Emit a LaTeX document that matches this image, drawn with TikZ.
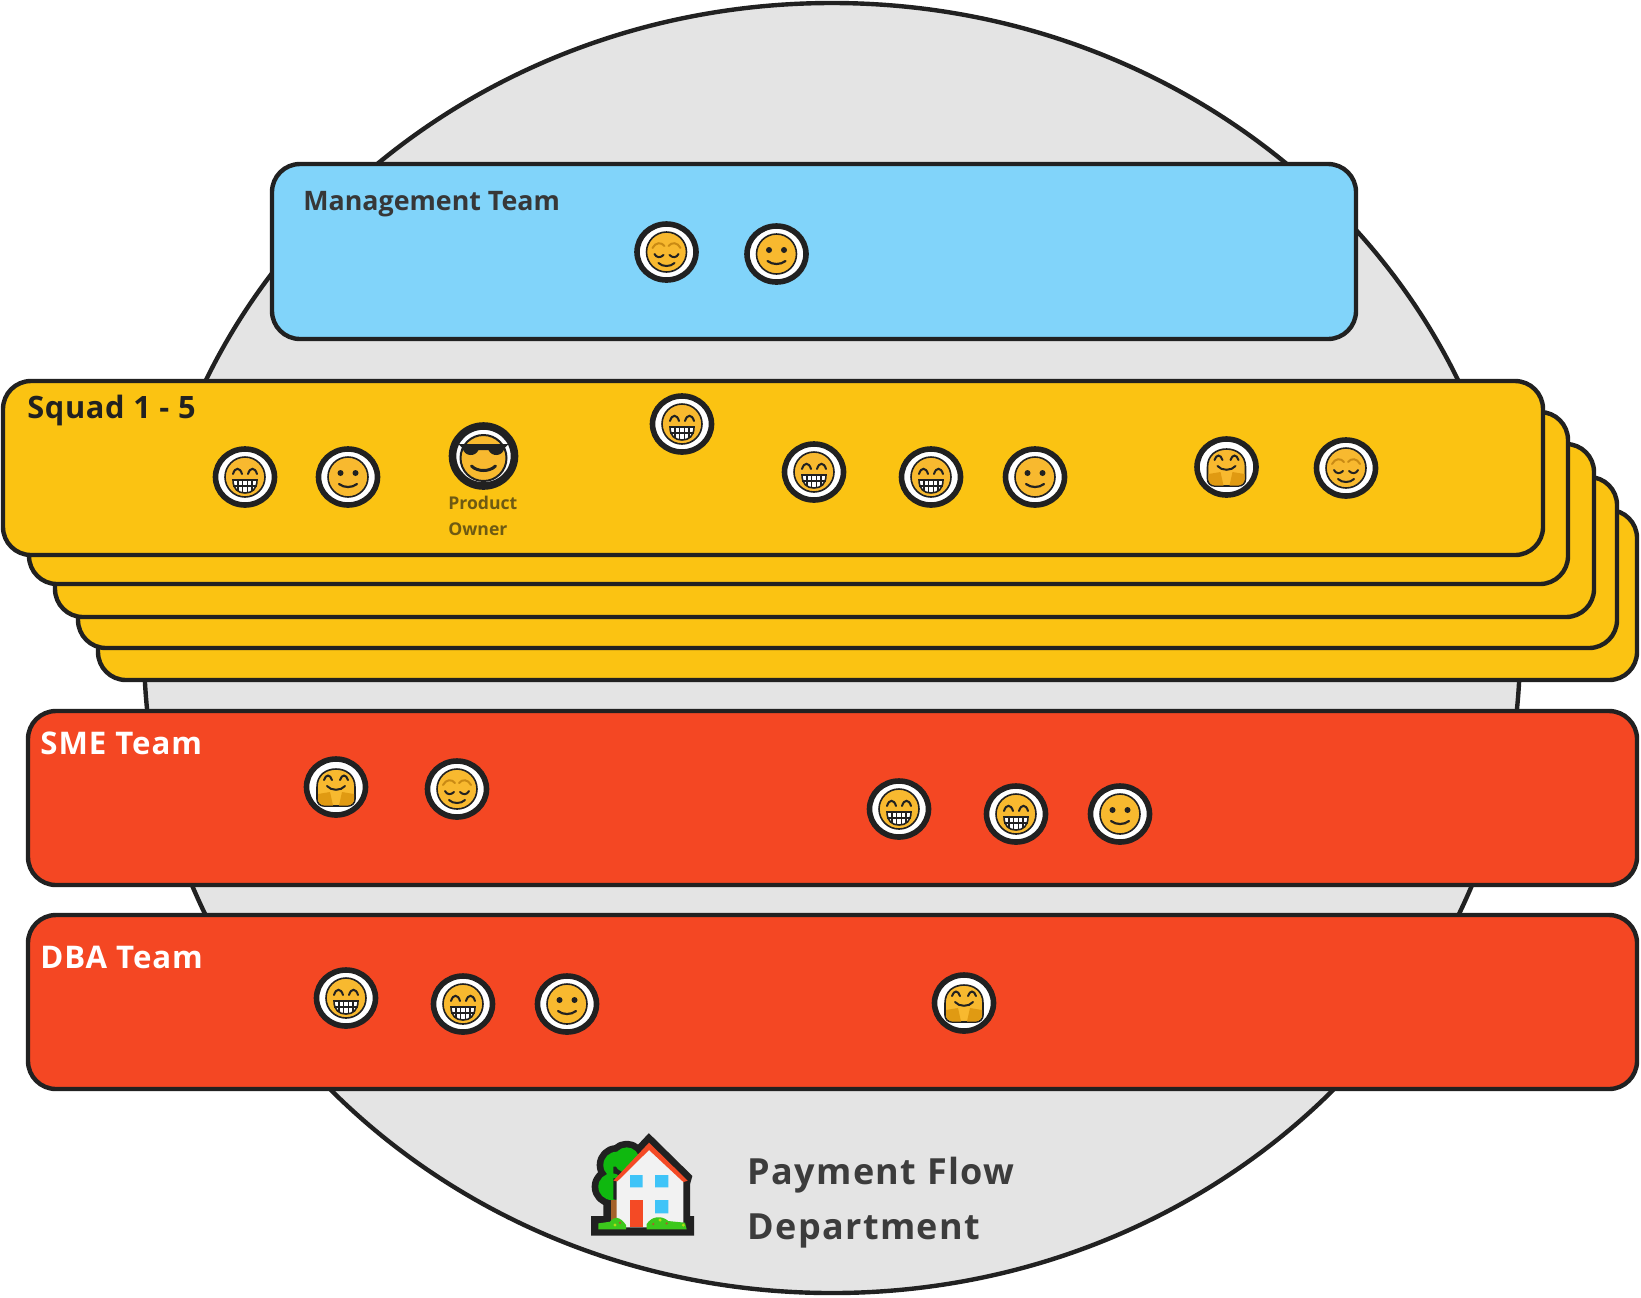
\documentclass[tikz,border=0pt]{standalone}
\usepackage{fontspec}
\setmainfont{Open Sans}
\definecolor{ink}{HTML}{212121}
\definecolor{disc}{HTML}{E4E4E4}
\definecolor{sky}{HTML}{81D4FA}
\definecolor{amber}{HTML}{FBC312}
\definecolor{redteam}{HTML}{F44723}
\definecolor{skin}{HTML}{F8B92F}
\definecolor{hands}{HTML}{E09A12}
\definecolor{brow}{HTML}{C98A14}
\definecolor{treegreen}{HTML}{0FB80F}
\definecolor{grassgreen}{HTML}{3CC81C}
\definecolor{trunk}{HTML}{A5622A}
\definecolor{roof}{HTML}{F44A25}
\definecolor{glass}{HTML}{3FC4F8}
\definecolor{wall}{HTML}{F2F2F2}
\definecolor{pocolor}{HTML}{6E5A12}
\definecolor{dimtext}{HTML}{3C3C3C}
\tikzset{
  x=0.5pt,y=-0.5pt,
  panel/.style={draw=ink,line width=2.2pt,rounded corners=14pt},
  label/.style={anchor=base west,inner sep=0pt,font=\bfseries},
  fline/.style={draw=ink,line width=1pt,line cap=round},
  pics/smileface/.style={code={\ringbase
    \fill[ink] (-7.5,-4) circle (3) (7.5,-4) circle (3);
    \draw[fline,line width=1.1pt] (-9,7) .. controls (-4,11) and (4,11) .. (9,7);}},
  pics/relievedface/.style={code={\ringbase
    \draw[fline,draw=brow] (-14,-4) .. controls (-11,-10) and (-5,-10) .. (-2,-6) (2,-6) .. controls (5,-10) and (11,-10) .. (14,-4);
    \draw[fline] (-12,2) .. controls (-10,6) and (-6,6) .. (-3,3) (3,3) .. controls (6,6) and (10,6) .. (12,2);
    \draw[fline] (-8,11) .. controls (-4,15) and (4,15) .. (8,11);}},
  pics/grinface/.style={code={\ringbase
    \draw[fline] (-12,-3) .. controls (-10,-10) and (-5,-10) .. (-3,-3) (3,-3) .. controls (5,-10) and (10,-10) .. (12,-3);
    \filldraw[fill=white,draw=ink,line width=0.8pt] (-12,3) -- (12,3) .. controls (12,12) and (7,16) .. (0,16) .. controls (-7,16) and (-12,12) .. (-12,3) -- cycle;
    \draw[ink,line width=0.6pt] (-7,3) -- (-7,14) (-2.5,3) -- (-2.5,16) (2.5,3) -- (2.5,16) (7,3) -- (7,14) (-12,9) -- (12,9);}},
  pics/hugface/.style={code={
    \filldraw[fill=white,draw=ink,line width=2.8pt] (0,0) ellipse [x radius=29.5,y radius=28];
    \filldraw[fill=skin,draw=ink,line width=0.8pt] (-19,0) .. controls (-19,-12) and (-10,-18) .. (0,-18) .. controls (10,-18) and (19,-12) .. (19,0) -- (19,12) .. controls (19,16) and (16,19) .. (12,19) -- (-12,19) .. controls (-16,19) and (-19,16) .. (-19,12) -- cycle;
    \fill[hands] (-18,7) -- (-6,5) -- (-3,18.5) -- (-12,18.5) .. controls (-15,18) and (-18,15) .. (-18,12) -- cycle (18,7) -- (6,5) -- (3,18.5) -- (12,18.5) .. controls (15,18) and (18,15) .. (18,12) -- cycle;
    \draw[fline] (-12,-7) .. controls (-10,-13) and (-6,-13) .. (-4,-7) (4,-7) .. controls (6,-13) and (10,-13) .. (12,-7);
    \draw[fline] (-9,-1) .. controls (-5,4) and (5,4) .. (9,-1);}},
  pics/coolface/.style={code={
    \filldraw[fill=white,draw=ink,line width=3.8pt] (0,0) ellipse [x radius=31,y radius=30];
    \filldraw[fill=skin,draw=ink,line width=1pt] (0,2) circle (23);
    \fill[ink] (-25,-12) -- (25,-12) -- (21,-8) .. controls (19,1) and (8,1) .. (5,-6) -- (-5,-6) .. controls (-8,1) and (-19,1) .. (-21,-8) -- cycle;
    \draw[ink,line width=1.5pt,line cap=round] (-12,10) .. controls (-6,16) and (6,16) .. (12,10);}}
}
\newcommand{\ringbase}{%
  \filldraw[fill=white,draw=ink,line width=2.8pt] (0,0) ellipse [x radius=29.5,y radius=28];
  \filldraw[fill=skin,draw=ink,line width=0.8pt] (0,0) circle (20);}
\begin{document}
\begin{tikzpicture}
\useasboundingbox (0,0) rectangle (1641,1297);
% department disc
\filldraw[fill=disc,draw=ink,line width=2.2pt] (832,648) ellipse [x radius=688,y radius=645];
% management
\draw[panel,fill=sky] (272,164) rectangle (1356,339);
\node[label,text=ink!90,font=\bfseries\fontsize{13.4}{16}\selectfont] (mgmt) at (303,210) {Management Team};
\pic at (666.5,252) {relievedface};
\pic at (776.5,254) {smileface};
% squads
\draw[panel,fill=amber] (98,510) rectangle (1637,680);
\draw[panel,fill=amber] (78,477) rectangle (1617,648);
\draw[panel,fill=amber] (55,444) rectangle (1594,617);
\draw[panel,fill=amber] (29,412) rectangle (1568,584);
\draw[panel,fill=amber] (3,381) rectangle (1543,555);
\node[label,text=ink,font=\bfseries\fontsize{15.4}{18}\selectfont\addfontfeatures{LetterSpace=2}] (squad) at (27,418) {Squad 1 - 5};
\pic at (245,477) {grinface};
\pic at (348,477) {smileface};
\pic at (483.5,456) {coolface};
\node[label,text=pocolor,font=\bfseries\fontsize{8.8}{11}\selectfont] (po1) at (448,509) {Product};
\node[label,text=pocolor,font=\bfseries\fontsize{8.8}{11}\selectfont] (po2) at (448,535) {Owner};
\pic at (682,424) {grinface};
\pic at (814,472) {grinface};
\pic at (931,477) {grinface};
\pic at (1035,477) {smileface};
\pic at (1226.5,467) {hugface};
\pic at (1346,468) {relievedface};
% SME
\draw[panel,fill=redteam] (28,711) rectangle (1637,885);
\node[label,text=white,font=\bfseries\fontsize{15.6}{18}\selectfont\addfontfeatures{LetterSpace=3}] (sme) at (40,754) {SME Team};
\pic at (336,787) {hugface};
\pic at (457,789) {relievedface};
\pic at (899,809) {grinface};
\pic at (1016,814) {grinface};
\pic at (1120,814) {smileface};
% DBA
\draw[panel,fill=redteam] (28,915) rectangle (1637,1089);
\node[label,text=white,font=\bfseries\fontsize{15.6}{18}\selectfont\addfontfeatures{LetterSpace=3}] (dba) at (40,968) {DBA Team};
\pic at (346,998) {grinface};
\pic at (463,1004) {grinface};
\pic at (567,1004) {smileface};
\pic at (964,1003) {hugface};
% house
\begin{scope}[shift={(570,1110)},x=0.1667pt,y=-0.1667pt]
  \filldraw[ink,line width=6.67pt,line join=round]
     (125,230) circle (40) (140,165) circle (40) (170,150) circle (38)
     (120,270) rectangle (142,340);
  \filldraw[ink,line width=6.67pt,line join=miter,miter limit=1.5]
     (237,98) -- (353,212) -- (340,215) -- (340,340) -- (140,340) -- (130,212) -- cycle
     (83,338) rectangle (352,357);
  \fill[treegreen] (125,230) circle (40) (140,165) circle (40) (170,150) circle (38) (130,170) rectangle (200,268);
  \fill[trunk] (122,270) rectangle (142,335);
  \fill[wall] (140,210) -- (237,108) -- (340,215) -- (340,352) -- (140,352) -- cycle;
  \fill[roof] (130,212) -- (237,98) -- (353,212) -- (340,216) -- (237,120) -- (142,214) -- cycle;
  \fill[glass] (180,195) rectangle (218,232) (255,195) rectangle (295,232) (255,270) rectangle (295,310);
  \fill[roof] (180,270) rectangle (218,350);
  \fill[grassgreen] (85,358) -- (85,340) -- (120,335) .. controls (130,318) and (150,318) .. (168,345) -- (168,358) -- cycle;
  \fill[grassgreen] (230,358) -- (230,342) .. controls (245,318) and (275,315) .. (295,333) -- (345,338) -- (350,358) -- cycle;
  \fill[yellow!70!green] (135,345) circle (5) (270,330) circle (5) (340,345) circle (5);
  \fill[trunk] (150,338) circle (4) (250,342) circle (4) (290,340) circle (4);
\end{scope}
% department label
\node[label,text=dimtext,font=\bfseries\fontsize{18}{21}\selectfont\addfontfeatures{LetterSpace=3.8}] (dept1) at (747,1184) {Payment Flow};
\node[label,text=dimtext,font=\bfseries\fontsize{18}{21}\selectfont\addfontfeatures{LetterSpace=3.8}] (dept2) at (747,1239) {Department};
\end{tikzpicture}
\end{document}
